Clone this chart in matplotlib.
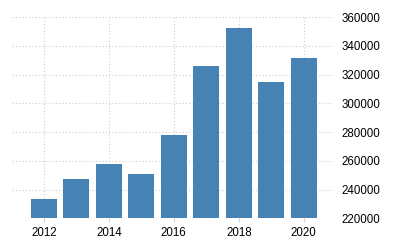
import matplotlib
matplotlib.use("Agg")
import matplotlib.pyplot as plt

years = [2012, 2013, 2014, 2015, 2016, 2017, 2018, 2019, 2020]
values = [233500, 247400, 257800, 250900, 278000, 326100, 352600, 315200, 331700]
xticks = [2012, 2014, 2016, 2018, 2020]
yticks = [220000, 240000, 260000, 280000, 300000, 320000, 340000, 360000]

plt.rcParams['font.family'] = ['Liberation Sans', 'DejaVu Sans']
fig = plt.figure(figsize=(4, 2.5), dpi=100)
ax = fig.add_axes([0.03, 0.127, 0.8025, 0.804])
ax.bar(years, values, width=0.8, color='#4682B4', zorder=2)
ax.set_xlim(2011.02, 2020.9)
ax.set_ylim(220000, 360000)
ax.set_xticks(xticks)
ax.set_xticklabels([str(x) for x in xticks])
ax.set_yticks(yticks)
ax.set_yticklabels([str(y) for y in yticks])
ax.yaxis.tick_right()
ax.tick_params(axis='y', length=0, labelsize=8.3, colors='#000000', pad=6)
ax.tick_params(axis='x', length=3, width=0.8, color='#cccccc', labelsize=8.3,
               labelcolor='#000000', pad=3)
ax.grid(True, color='#cccccc', linestyle=(0, (1, 2)), linewidth=0.8, zorder=0)
for s in ax.spines.values():
    s.set_visible(False)
fig.savefig('out.png', dpi=100)
